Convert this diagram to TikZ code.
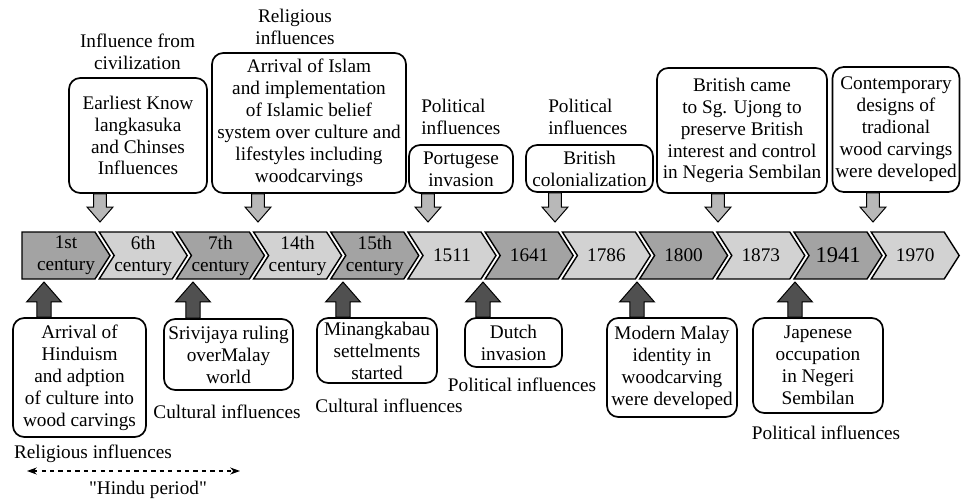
\documentclass[tikz,border=0pt]{standalone}
\usepackage{fontspec}
\setmainfont{Liberation Serif}
\usetikzlibrary{calc,arrows.meta}
\definecolor{chevdark}{RGB}{163,163,163}
\definecolor{chevlight}{RGB}{210,210,210}
\definecolor{downfill}{RGB}{184,184,184}
\definecolor{upfill}{RGB}{80,80,80}
\tikzset{
  evbox/.style={draw,line width=1.2pt,rounded corners=8pt,align=center,inner sep=1pt},
  lbl/.style={align=center,inner sep=0pt},
  chev/.style={draw,line width=1pt,line join=miter},
  chevtext/.style={align=center,inner sep=0pt},
  blockarr/.style n args={3}{draw,line width=0.7pt,line join=miter,to path={
    let \p1=(\tikztostart),\p2=(\tikztotarget),
        \p3=($(\tikztotarget)!#3!(\tikztostart)$),
        \n1={atan2((\y2)-(\y1),(\x2)-(\x1))} in
    ($(\p1)+(\n1+90:#1)$) -- ($(\p3)+(\n1+90:#1)$) -- ($(\p3)+(\n1+90:#2)$) -- (\p2)
    -- ($(\p3)+(\n1-90:#2)$) -- ($(\p3)+(\n1-90:#1)$) -- ($(\p1)+(\n1-90:#1)$) -- cycle}},
  downarr/.style={blockarr={4.6pt}{9.2pt}{10.6pt},fill=downfill},
  uparr/.style={blockarr={5pt}{12.4pt}{14.2pt},fill=upfill}
}
\begin{document}
\begin{tikzpicture}[x=0.025cm,y=-0.025cm,font=\fontsize{13.7}{15.6}\selectfont]
    \useasboundingbox (0,0) rectangle (961,500);

    \foreach \lab/\fc [count=\i from 0] in {{1st\\century}/chevdark,{6th\\century}/chevlight,
        {7th\\century}/chevdark,{14th\\century}/chevlight,{15th\\century}/chevdark,1511/chevlight,
        1641/chevdark,1786/chevlight,1800/chevdark,1873/chevlight,
        {\fontsize{16}{18}\selectfont 1941}/chevdark,1970/chevlight}{
        \pgfmathsetmacro\s{22+77.2*\i}
        \ifnum\i=0 \def\nt{0}\else\def\nt{15}\fi
        \draw[chev,fill=\fc](\s,232)--(\s+73,232)--(\s+88,255.5)--(\s+73,279)--(\s,279)--(\s+\nt,255.5)--cycle;
        \node[chevtext](c\i)at(\s+44,255.5){\lab};
    }

    \node[evbox,minimum width=138*0.025cm,minimum height=115*0.025cm](t1)at(138,135.5)
        {Earliest Know\\langkasuka\\and Chinses\\Influences};
    \node[evbox,minimum width=194*0.025cm,minimum height=140*0.025cm](t2)at(309,123)
        {Arrival of Islam\\and implementation\\of Islamic belief\\system over culture and\\lifestyles including\\woodcarvings};
    \node[evbox,minimum width=104*0.025cm,minimum height=48*0.025cm](t3)at(461,169){Portugese\\invasion};
    \node[evbox,minimum width=127*0.025cm,minimum height=47*0.025cm](t4)at(589.5,168.5){British\\colonialization};
    \node[evbox,minimum width=170*0.025cm,minimum height=125*0.025cm](t5)at(742,130.5)
        {British came\\to Sg. Ujong to\\preserve British\\interest and control\\in Negeria Sembilan};
    \node[evbox,minimum width=127*0.025cm,minimum height=125*0.025cm](t6)at(896,129.5)
        {Contemporary\\designs of\\tradional\\wood carvings\\were developed};

    \node[evbox,minimum width=133*0.025cm,minimum height=119*0.025cm](b1)at(79.5,377.5)
        {Arrival of\\Hinduism\\and adption\\of culture into\\wood carvings};
    \node[evbox,minimum width=129*0.025cm,minimum height=71*0.025cm](b2)at(228.5,354.5)
        {Srivijaya ruling\\overMalay\\world};
    \node[evbox,minimum width=120*0.025cm,minimum height=65*0.025cm](b3)at(377,350.5)
        {Minangkabau\\settelments\\started};
    \node[evbox,minimum width=97*0.025cm,minimum height=49*0.025cm](b4)at(513.5,342.5){Dutch\\invasion};
    \node[evbox,minimum width=130*0.025cm,minimum height=99*0.025cm](b5)at(672,367.5)
        {Modern Malay\\identity in\\woodcarving\\were developed};
    \node[evbox,minimum width=130*0.025cm,minimum height=95*0.025cm](b6)at(818,365.5)
        {Japenese\\occupation\\in Negeri\\Sembilan};

    \node[lbl](l1)at(137.5,52){Influence from\\civilization};
    \node[lbl](l2)at(295,27){Religious\\influences};
    \node[lbl,align=left,anchor=west](l3)at(421,117){Political\\influences};
    \node[lbl,align=left,anchor=west](l4)at(548,117){Political\\influences};
    \node[lbl](l5)at(93,454){Religious influences};
    \node[lbl](l6)at(227,412){Cultural influences};
    \node[lbl](l7)at(389,406){Cultural influences};
    \node[lbl](l8)at(522,385){Political influences};
    \node[lbl](l9)at(826,433){Political influences};
    \node[lbl](hp)at(148,490){\textquotedbl Hindu period\textquotedbl};

    \coordinate(d1)at(100,222);
    \coordinate(d2)at(258,222);
    \coordinate(d3)at(428,222);
    \coordinate(d4)at(555,222);
    \coordinate(d5)at(718,222);
    \coordinate(d6)at(873,222);
    \coordinate(u1)at(44,282);
    \coordinate(u2)at(193,282);
    \coordinate(u3)at(343,282);
    \coordinate(u4)at(483,282);
    \coordinate(u5)at(637,282);
    \coordinate(u6)at(795,282);

    \foreach \k in {1,...,6}{
        \draw[downarr](t\k.south -| d\k) to (d\k);
        \draw[uparr](b\k.north -| u\k) to (u\k);
    }

    \coordinate(hpl)at(27,471);
    \coordinate(hpr)at(240,471);
    \draw[dashed,line width=0.8pt,{Stealth[length=7pt,width=5pt]}-{Stealth[length=7pt,width=5pt]}](hpl)--(hpr);
\end{tikzpicture}
\end{document}
